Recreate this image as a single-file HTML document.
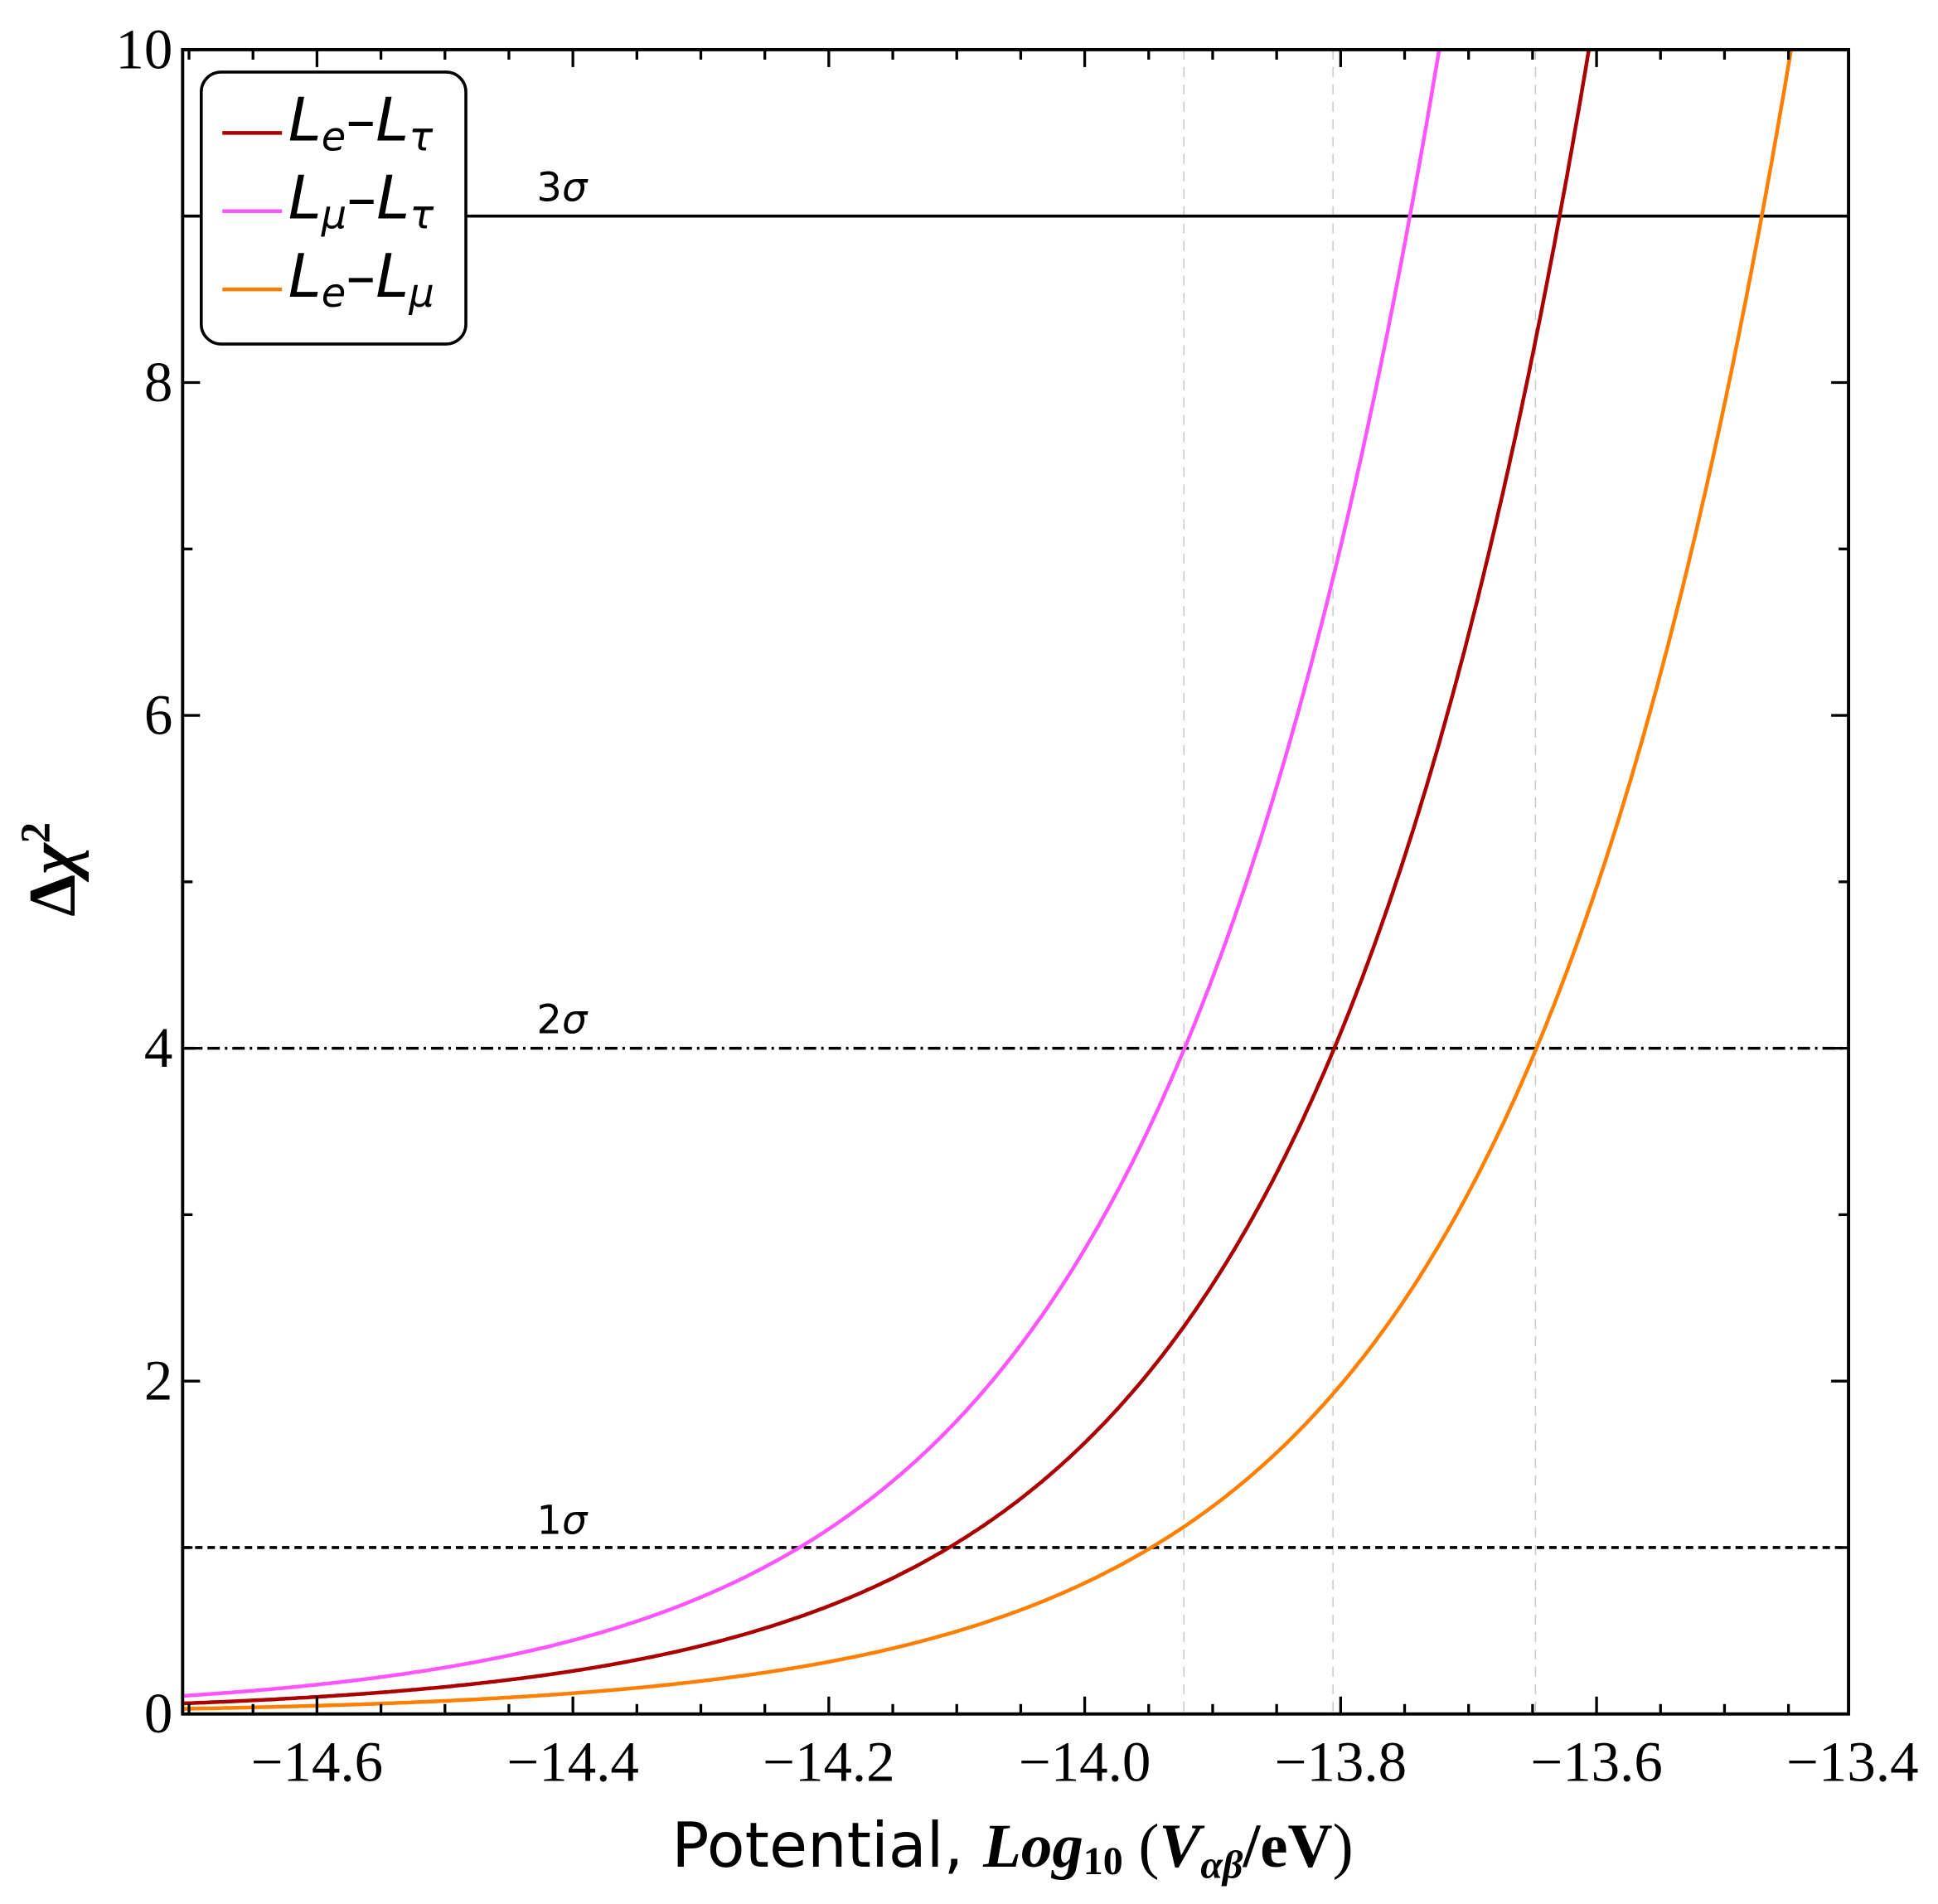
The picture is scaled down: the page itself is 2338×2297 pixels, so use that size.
<!DOCTYPE html>
<html><head><meta charset="utf-8"><style>
html,body{margin:0;padding:0;background:#fff;}
svg{display:block;}
</style></head><body>
<svg id="s" width="2338" height="2297" viewBox="0 0 1560 1533" preserveAspectRatio="none" xmlns="http://www.w3.org/2000/svg">
<rect width="1560" height="1533" fill="#fff"/>
<g id="grid" stroke="#c8c8c8" stroke-width="1" stroke-dasharray="8,6">
<line x1="953" y1="40" x2="953" y2="1380"/>
<line x1="1073" y1="40" x2="1073" y2="1380"/>
<line x1="1236" y1="40" x2="1236" y2="1380"/>
</g>
<line x1="147" y1="174" x2="1488" y2="174" stroke="#000" stroke-width="2.4"/>
<line x1="147" y1="844" x2="1488" y2="844" stroke="#000" stroke-width="2.4" stroke-dasharray="10,4,2,4"/>
<line x1="147" y1="1246" x2="1488" y2="1246" stroke="#000" stroke-width="2.4" stroke-dasharray="6,4"/>
<g font-family="'DejaVu Sans','Liberation Sans',sans-serif" font-size="32" fill="#000">
<text x="432" y="162">3<tspan font-style="italic">σ</tspan></text>
<text x="432" y="832">2<tspan font-style="italic">σ</tspan></text>
<text x="432" y="1235">1<tspan font-style="italic">σ</tspan></text>
</g>
<g id="curves" fill="none" stroke-width="3"></g>
<g id="ticks" stroke="#000" stroke-width="2.2"></g>
<rect x="147" y="40" width="1341" height="1340" fill="none" stroke="#000" stroke-width="2.6"/>
<g id="labels" font-family="'Liberation Serif',serif" font-size="46" fill="#000"></g>
<text transform="translate(60,700) rotate(-90)" text-anchor="middle" font-family="'Liberation Serif',serif" font-weight="bold" font-size="54">Δ<tspan font-style="italic">χ</tspan><tspan dy="-20" font-size="34">2</tspan></text>
<text x="815" y="1503" text-anchor="middle" font-size="50"><tspan font-family="'DejaVu Sans','Liberation Sans',sans-serif">Potential, </tspan><tspan font-family="'Liberation Serif',serif" font-weight="bold" font-style="italic">Log</tspan><tspan font-family="'Liberation Serif',serif" font-weight="bold" font-size="32" dy="6">10</tspan><tspan font-family="'Liberation Serif',serif" dy="-6"> (</tspan><tspan font-family="'Liberation Serif',serif" font-weight="bold" font-style="italic">V</tspan><tspan font-family="'Liberation Serif',serif" font-weight="bold" font-style="italic" font-size="32" dy="9">αβ</tspan><tspan font-family="'Liberation Serif',serif" font-weight="bold" dy="-9">/eV</tspan><tspan font-family="'Liberation Serif',serif">)</tspan></text>
<rect x="162" y="58" width="213" height="219" rx="16" ry="16" fill="#fff" stroke="#000" stroke-width="2.4"/>
<g stroke-width="3">
<line x1="179" y1="107" x2="227" y2="107" stroke="#aa0000"/>
<line x1="179" y1="170" x2="227" y2="170" stroke="#ff55ff"/>
<line x1="179" y1="233" x2="227" y2="233" stroke="#ff8000"/>
</g>
<g font-family="'DejaVu Sans','Liberation Sans',sans-serif" font-size="48" font-style="italic" fill="#000">
<text x="232" y="113">L<tspan font-size="32" dy="8">e</tspan><tspan dy="-8" font-style="normal">–</tspan>L<tspan font-size="32" dy="8">τ</tspan></text>
<text x="232" y="176">L<tspan font-size="32" dy="8">μ</tspan><tspan dy="-8" font-style="normal">–</tspan>L<tspan font-size="32" dy="8">τ</tspan></text>
<text x="232" y="239">L<tspan font-size="32" dy="8">e</tspan><tspan dy="-8" font-style="normal">–</tspan>L<tspan font-size="32" dy="8">μ</tspan></text>
</g>
<script>
(function(){
var NS="http://www.w3.org/2000/svg";
function X(v){return 147+(v+14.705)*1030;}
function Y(v){return 1380-v*134;}
var c=document.getElementById("curves");
[["#aa0000",-14.106],["#ff55ff",-14.223],["#ff8000",-13.948]].forEach(function(s){
 var d="";
 for(var x=-14.705;x<=-13.4;x+=0.002){
  var y=Math.pow(10,2*(x-s[1]));
  if(y>10){var xe=s[1]+0.5;d+="L"+X(xe).toFixed(1)+","+Y(10);break;}
  d+=(d?"L":"M")+X(x).toFixed(1)+","+Y(y).toFixed(1);
 }
 var p=document.createElementNS(NS,"path");p.setAttribute("d",d);p.setAttribute("stroke",s[0]);c.appendChild(p);
});
var t=document.getElementById("ticks"),l=document.getElementById("labels");
function ln(a,b,c2,d){var e=document.createElementNS(NS,"line");e.setAttribute("x1",a);e.setAttribute("y1",b);e.setAttribute("x2",c2);e.setAttribute("y2",d);t.appendChild(e);}
function tx(x,y,s,anc){var e=document.createElementNS(NS,"text");e.setAttribute("x",x);e.setAttribute("y",y);e.setAttribute("text-anchor",anc);e.textContent=s;l.appendChild(e);}
for(var i=0;i<=26;i++){
 var v=-14.7+i*0.05;var x=X(v);if(x<148||x>1487)continue;
 var maj=(Math.round(v*100)%20===0);var L=maj?14:8;
 ln(x,1380,x,1380-L);ln(x,40,x,40+L);
}
[-14.6,-14.4,-14.2,-14.0,-13.8,-13.6,-13.4].forEach(function(v){tx(X(v),1434,"\u2212"+Math.abs(v).toFixed(1),"middle");});
for(var j=0;j<=10;j++){
 var y=Y(j);var L=(j%2===0)?14:8;
 ln(147,y,147+L,y);ln(1488,y,1488-L,y);
 if(j%2===0)tx(139,y+15,String(j),"end");
}
})();
</script>
</svg>
</body></html>
